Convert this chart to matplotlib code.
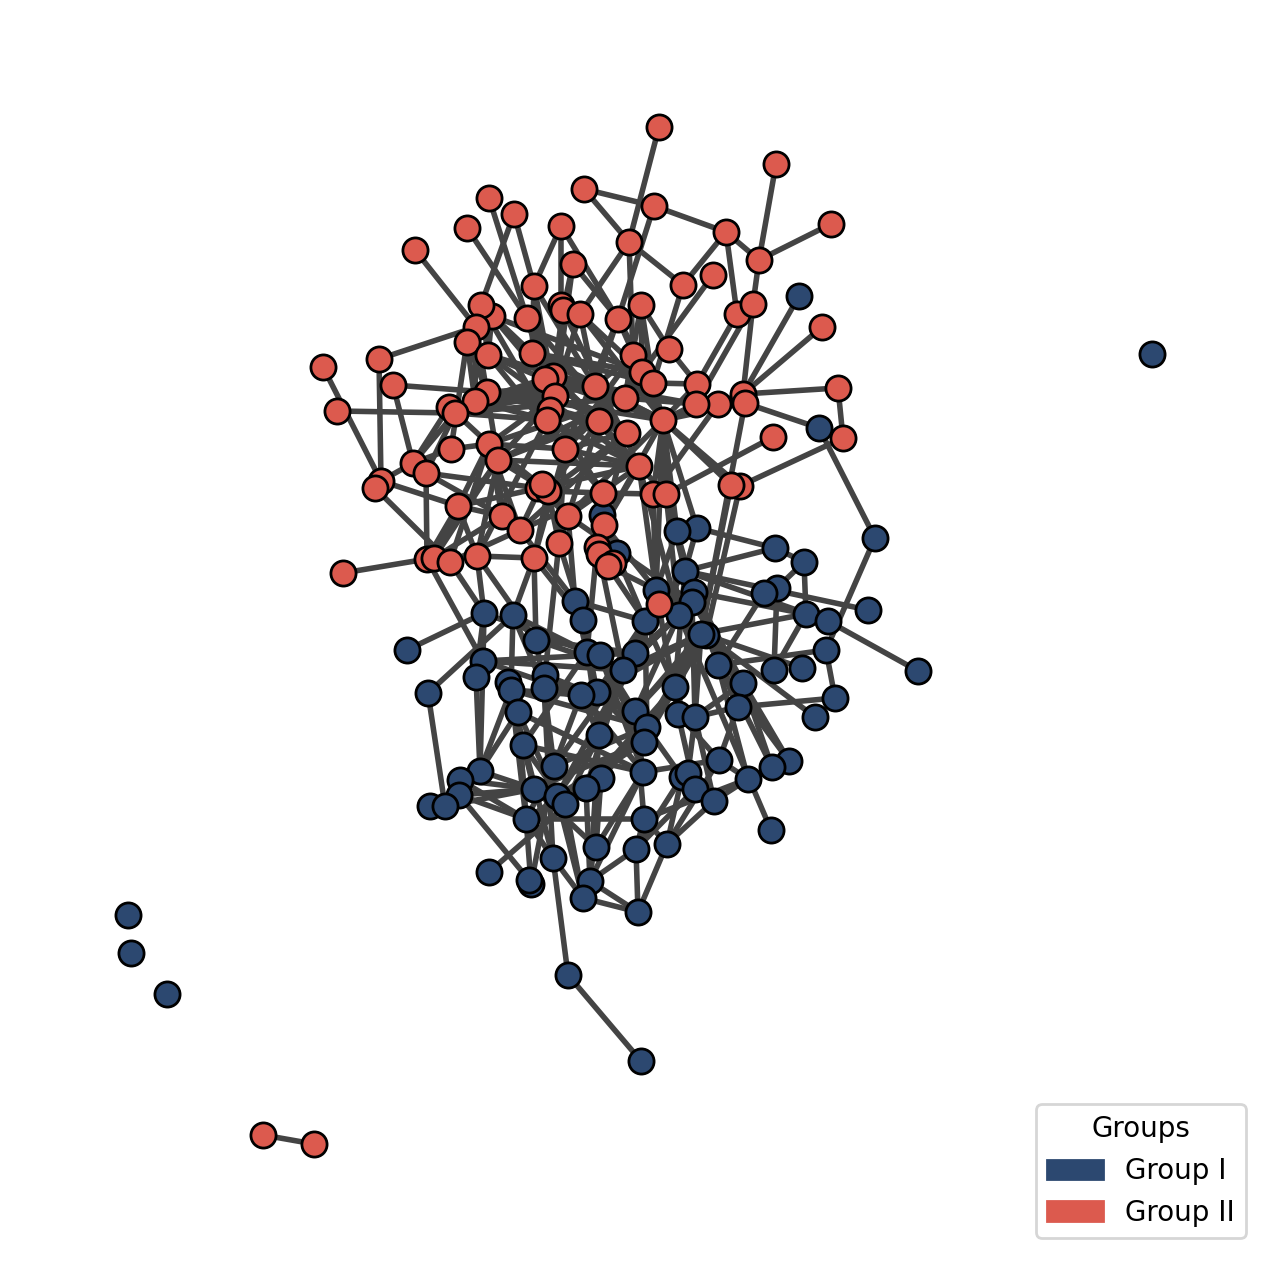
import matplotlib
matplotlib.use("Agg")
import matplotlib.pyplot as plt
from matplotlib.collections import LineCollection
from matplotlib.patches import Patch

# node positions
group_i_x = [799,819,602,875,697,677,775,804,617,685,656,777,764,694,692,868,575,484,513,806,679,645,583,828,706,701,536,407,826,587,600,635,483,802,774,718,623,918,476,545,508,511,544,428,597,581,675,743,835,738,518,815,635,678,695,647,644,599,523,789,772,719,554,480,643,460,601,682,688,748,695,534,586,459,557,565,714,430,445,526,644,667,596,636,553,489,531,529,590,583,638,568,641,1152,128,131,167,771]
group_i_y = [296,428,515,538,528,531,548,562,553,571,590,588,593,592,602,610,601,613,615,614,615,621,620,621,635,634,640,650,650,652,655,653,661,668,670,665,670,671,677,675,682,690,688,693,692,695,687,683,698,707,712,717,711,714,717,727,742,735,745,761,767,760,766,771,772,780,778,777,773,779,789,789,788,795,796,804,801,806,806,819,819,844,847,849,858,872,884,880,881,898,912,975,1061,354,915,953,994,830]
group_ii_x = [659,776,831,584,654,726,759,489,514,467,561,415,629,573,713,683,534,492,481,476,527,561,563,580,618,641,737,753,822,467,488,532,379,323,633,669,642,653,553,545,393,595,697,838,743,745,718,696,625,555,487,475,449,455,337,550,547,599,663,627,843,773,489,451,565,498,413,426,639,381,375,538,548,542,603,653,666,740,731,458,502,568,520,604,559,597,599,613,608,427,434,450,477,534,343,659,263,314]
group_ii_y = [127,164,224,189,206,232,260,198,214,228,226,250,242,264,275,285,286,316,305,327,318,305,310,314,319,305,314,304,327,342,355,353,359,367,355,349,372,383,376,379,385,386,384,388,394,403,404,404,398,396,392,401,407,413,411,410,420,421,420,433,438,437,444,449,449,460,463,473,466,481,488,488,491,484,493,494,494,486,485,506,516,516,530,525,543,547,554,563,566,559,558,562,556,558,573,604,1135,1144]
group_labels = ["Group I", "Group II"]

edges_ii = [(0,12),(3,4),(3,12),(4,5),(5,6),(1,6),(2,6),(6,27),(5,26),(5,15),(12,15),(4,24),(12,34),(13,24),(10,16),(10,21),(10,24),(13,22),(12,23),
(7,20),(8,16),(8,18),(9,20),(11,19),(32,19),(32,69),(33,69),(54,53),(40,50),(40,66),(94,89),(69,66),(69,79),(70,91),(67,89),(67,71),(67,80),(92,93),(79,92),(79,80),(79,90),(80,90),(82,91),(66,53),(66,52),(67,53),(66,63),(63,62),
(26,42),(27,47),(27,44),(28,44),(43,44),(43,60),(35,42),(14,36),(15,37),(25,35),(25,37),(25,36),(60,77),(61,76),(58,77),(58,78),(46,75),
(29,51),(29,63),(30,39),(30,41),(30,64),(31,41),(31,48),(31,58),(19,51),(19,65),(20,39),(20,38),(22,49),(22,56),(23,41),(23,36),(23,58),(24,41),(24,37),(24,58),(16,49),(16,31),(17,39),(17,36),(18,31),(18,64),
(34,41),(34,58),(34,48),(36,48),(36,58),(37,58),(41,58),(38,58),(39,58),(39,59),(39,48),(49,59),(50,41),(50,58),(51,56),(51,38),(52,62),(53,41),(53,38),(53,56),
(55,74),(56,68),(57,68),(57,72),(59,64),(59,72),(62,72),(62,64),(64,68),(65,72),(65,80),(68,79),(74,72),(74,75),(74,82),(75,58),(76,58),(76,68),(73,81),(71,81),(72,84),(81,58),(83,58),(83,68),(84,57),(84,64),(85,59),(93,64),(93,72),(92,65),(91,62),(90,65),(89,79),(80,62),(82,73),(82,62),(79,62),(47,58),(46,58),(45,58),(44,58),(42,58),(47,48),(42,37),(41,47),(96,97),
(29,50),(18,30),(17,30),(31,37),(31,36),(16,41),(50,49),(52,49),(53,48),(62,49),(65,49),(65,68),(64,74),(81,68),(82,59),(92,56),(89,65),
(30,68),(31,68),(22,68),(20,59),(17,57),(24,64),(34,64),(36,64),(48,65),(48,62),(57,65),(57,50),(59,50),(13,49),(16,56),(23,56),(38,61-61+68),(25,48)]

edges_i = [(43,78),(73,71),(73,79),(65,79),(63,71),(73,87),(85,72),(32,63),(63,50),(63,41),(27,17),(43,18),(84,91),(91,92),(84,89),(88,90),(89,90),(83,90),(81,90),(88,83),(80,83),(67,81),(79,80),
(1,3),(3,28),(15,9),(37,23),(28,48),(48,49),(23,19),(28,35),(25,19),(11,34),(19,34),(12,35),(7,19),(6,7),(7,11),(6,9),(4,6),(24,51),(49,61),(47,59),(47,60),(69,76),(69,80),(20,97),
(10,36),(10,53),(10,31),(9,46),(9,36),(14,36),(14,54),(14,47),(13,35),(13,47),(13,19),(9,23),(20,36),(20,52),(20,31),(21,36),(21,44),(21,55),(21,46),(25,54),(25,55),(25,56),(25,36),(25,52),(25,44),(24,49),(24,47),(24,60),(24,59),(24,56),(24,52),(22,44),(22,29),(22,57),(26,42),(26,36),(26,31),(17,32),(17,38),(17,29),(18,36),(18,42),(18,41),(32,31),(32,36),(32,45),(38,63),(39,45),(39,52),(41,45),(41,55),(42,52),(42,44),(44,56),(45,57),(45,62),(29,58),(30,64),(30,56),(30,52),(36,57),(36,62),(36,72),(31,57),(31,74),(46,55),(46,72),(46,66),(52,80),(52,64),(52,67),(53,61),(53,70),(54,68),(54,76),(55,72),(55,75),(55,66),(55,62),(56,71),(56,74),(56,79),(57,74),(57,75),(57,88),(58,71),(58,75),(50,79),(50,86),(50,74),(40,84),(41,79),(42,62),(42,84),(62,86),(62,79),(64,82),(64,88),(66,82),(72,88),(74,89),(75,89),(79,84),(80,81),(61,81),(67,83),(70,83),(76,81),(61,64),(61,69),(35,69),(35,59),(47,54),(49,54),(33,24),(16,21),(77,73),(78,71),(65,71),(65,73),(4,9),(5,10),(13,53),(16,29),(18,26),(45,64),(50,64),(58,64),(71,82),(66,88)]

# (group I node, group II node)
edges_cross = [(0,44),(26,93),(39,84),(29,85),(22,93),(18,93),(26,92),(36,86),(21,88),(10,88),(10,68),(10,75),(9,76),(20,76),(10,58),(4,58),(5,58),(25,45),(25,78),(24,77),(1,45),(17,91),(17,92),(32,89),(16,82),(21,83),(20,68),(14,81),(5,76),(13,76),(10,83),(16,81),(22,84)]

COL_I = "#2c4870"
COL_II = "#dc5a4e"

fig = plt.figure(figsize=(6.4, 6.36), dpi=200)
ax = fig.add_axes([0, 0, 1, 1])
ax.set_xlim(0, 1280)
ax.set_ylim(1272, 0)
ax.axis("off")

pi = list(zip(group_i_x, group_i_y))
pii = list(zip(group_ii_x, group_ii_y))
segs = [(pii[a], pii[b]) for a, b in edges_ii]
segs += [(pi[a], pi[b]) for a, b in edges_i]
segs += [(pi[a], pii[b]) for a, b in edges_cross]
ax.add_collection(LineCollection(segs, colors="#444444", linewidths=2.0, zorder=1))

ax.scatter(group_i_x, group_i_y, s=82, c=COL_I, edgecolors="black", linewidths=1.0, zorder=2)
ax.scatter(group_ii_x, group_ii_y, s=82, c=COL_II, edgecolors="black", linewidths=1.0, zorder=3)

handles = [Patch(color=COL_I, label=group_labels[0]), Patch(color=COL_II, label=group_labels[1])]
fig.legend(handles=handles, title="Groups", loc="lower right",
           bbox_to_anchor=(1246/1280, 1-1238/1272), borderaxespad=0, fontsize=10)

fig.savefig("out.png", dpi=200)
